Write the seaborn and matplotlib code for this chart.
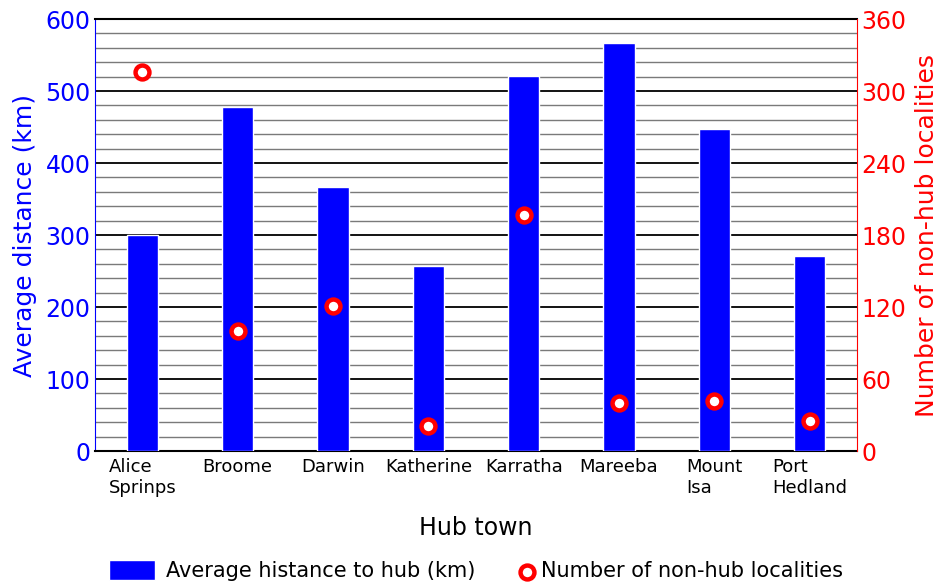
import numpy as np
import pandas as pd
import matplotlib
matplotlib.use("Agg")
import matplotlib.pyplot as plt
import seaborn as sns

# data
towns = ["Alice\nSprinps", "Broome", "Darwin", "Katherine", "Karratha",
         "Mareeba", "Mount\nIsa", "Port\nHedland"]
avg_distance = [300, 478, 367, 257, 521, 567, 447, 271]
n_localities = [316, 100, 121, 21, 197, 40, 42, 25]

df = pd.DataFrame({"town": towns, "dist": avg_distance, "count": n_localities})

sns.set_style("white")
plt.rcParams['font.family'] = ['DejaVu Sans']
plt.rcParams['text.color'] = 'black'
plt.rcParams['axes.labelcolor'] = 'black'
plt.rcParams['xtick.color'] = 'black'

fig = plt.figure(figsize=(9.38, 5.85), dpi=100)
ax = fig.add_axes([0.101, 0.229, 0.813, 0.7385])

sns.barplot(data=df, x="town", y="dist", color="#0000ff", saturation=1,
            width=0.33, ax=ax, label="Average histance to hub (km)", zorder=3)
ax.set_xlim(-0.5, 7.5)
ax.set_ylim(0, 600)
ax.set_yticks(np.arange(0, 601, 100))
ax.set_yticks(np.arange(0, 601, 20), minor=True)
ax.grid(True, which="major", axis="y", color="black", lw=1.3, zorder=0)
ax.grid(True, which="minor", axis="y", color="#7a7a7a", lw=1.0, zorder=0)
ax.set_axisbelow(True)
ax.tick_params(axis="y", which="both", colors="#0000ff", labelsize=17, length=0, pad=3)
ax.tick_params(axis="x", labelsize=13, length=0, pad=5, colors="black")
for lbl in ax.get_xticklabels():
    lbl.set_multialignment("left")
ax.set_ylabel("Average distance (km)", color="#0000ff", fontsize=18, labelpad=6)
ax.set_xlabel("Hub town", fontsize=17, labelpad=14, color="black")
ax.spines["left"].set_color("#0000ff")
ax.spines["right"].set_visible(False)
for s in ["top", "bottom"]:
    ax.spines[s].set_color("black")
    ax.spines[s].set_linewidth(1.5)

ax2 = ax.twinx()
sns.scatterplot(data=df, x="town", y="count", ax=ax2, marker="o", s=100,
                facecolor="white", edgecolor="red", linewidth=3.2,
                label="Number of non-hub localities", zorder=5)
ax2.set_ylim(0, 360)
ax2.set_yticks(np.arange(0, 361, 60))
ax2.tick_params(axis="y", colors="red", labelsize=17, length=0, pad=3)
ax2.set_ylabel("Number of non-hub localities", color="red", fontsize=18, labelpad=6)
ax2.spines["right"].set_color("red")
ax2.spines["left"].set_visible(False)
ax2.spines["top"].set_visible(False)
ax2.spines["bottom"].set_visible(False)
ax2.grid(False)
ax2.legend_.remove()

h1, l1 = ax.get_legend_handles_labels()
h2, l2 = ax2.get_legend_handles_labels()
if ax.legend_ is not None:
    ax.legend_.remove()
fig.legend(h1, l1, loc="lower left", bbox_to_anchor=(0.096, -0.026),
           frameon=False, fontsize=15, handlelength=2.2, handleheight=1.1,
           handletextpad=0.55, labelcolor="black")
fig.legend(h2, l2, loc="lower left", bbox_to_anchor=(0.535, -0.026),
           frameon=False, fontsize=15, handlelength=0.6,
           handletextpad=0.4, labelcolor="black")

fig.savefig("out.png", dpi=100)
